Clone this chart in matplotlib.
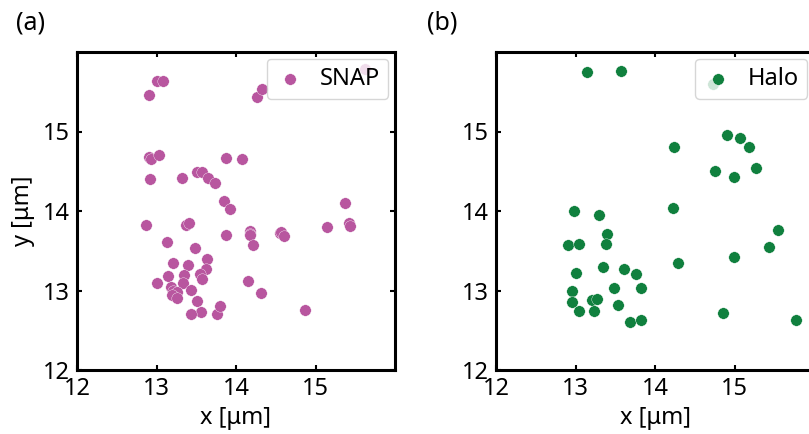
import matplotlib
matplotlib.use("Agg")
import matplotlib.pyplot as plt

plt.rcParams['font.family'] = ['Noto Sans', 'DejaVu Sans']

snap_x = [13.00, 13.08, 12.90, 14.27, 14.33, 15.62, 12.90, 12.93, 13.03, 12.92,
          13.32, 13.51, 13.57, 13.65, 13.73, 13.87, 14.08, 13.85, 13.92, 12.87,
          13.37, 13.41, 13.88, 14.17, 14.18, 14.17, 14.21, 14.55, 14.57, 14.61,
          15.15, 15.37, 15.42, 15.44, 13.13, 13.49, 13.21, 13.64, 13.39, 13.62,
          13.55, 13.57, 13.35, 13.33, 13.14, 13.01, 13.18, 13.21, 13.26, 13.19,
          13.26, 13.44, 14.15, 14.31, 13.51, 13.56, 13.43, 13.76, 13.80, 14.87]
snap_y = [15.64, 15.64, 15.46, 15.43, 15.54, 15.78, 14.68, 14.65, 14.70, 14.40,
          14.41, 14.49, 14.49, 14.42, 14.35, 14.67, 14.65, 14.13, 14.03, 13.82,
          13.83, 13.85, 13.70, 13.75, 13.71, 13.70, 13.57, 13.72, 13.74, 13.69,
          13.80, 14.10, 13.85, 13.81, 13.61, 13.54, 13.35, 13.40, 13.32, 13.27,
          13.21, 13.15, 13.20, 13.10, 13.18, 13.09, 13.05, 13.00, 12.98, 12.94,
          12.91, 13.01, 13.12, 12.97, 12.87, 12.73, 12.70, 12.71, 12.80, 12.76]

halo_x = [13.15, 13.57, 14.73, 14.24, 14.90, 15.07, 15.18, 14.75, 14.99, 15.27,
          14.23, 12.98, 13.30, 13.39, 12.90, 13.05, 13.38, 15.55, 15.44, 14.29,
          14.99, 13.01, 13.35, 13.61, 13.76, 12.95, 13.48, 13.83, 12.95, 13.21,
          13.27, 13.05, 13.23, 13.54, 13.69, 13.82, 14.86, 15.77]
halo_y = [15.75, 15.76, 15.60, 14.81, 14.96, 14.92, 14.81, 14.50, 14.43, 14.54,
          14.04, 14.00, 13.95, 13.71, 13.57, 13.58, 13.58, 13.76, 13.55, 13.35,
          13.42, 13.22, 13.29, 13.27, 13.21, 13.00, 13.03, 13.03, 12.85, 12.88,
          12.89, 12.74, 12.74, 12.82, 12.61, 12.63, 12.72, 12.63]

ticks = [12, 13, 14, 15]
labels = ["SNAP", "Halo"]
colors = ["#b8569f", "#10803e"]
panel_tags = ["(a)", "(b)"]

W, H = 809, 434
fig = plt.figure(figsize=(W / 100, H / 100), dpi=100)
ax1 = fig.add_axes([77 / W, (434 - 370) / H, 318 / W, 318 / H])
ax2 = fig.add_axes([496 / W, (434 - 370) / H, 318 / W, 318 / H])

for ax, xs, ys, lab, col in [(ax1, snap_x, snap_y, labels[0], colors[0]),
                             (ax2, halo_x, halo_y, labels[1], colors[1])]:
    ax.scatter(xs, ys, s=68, color=col, edgecolor='white', linewidth=0.25, label=lab, zorder=2)
    ax.set_xlim(12, 16)
    ax.set_ylim(12, 16)
    ax.set_xticks(ticks)
    ax.set_yticks(ticks)
    ax.tick_params(direction='in', top=True, right=True, length=3.6, width=1.5,
                   labelsize=17, pad=5)
    for sp in ax.spines.values():
        sp.set_linewidth(2.2)
    ax.set_xlabel("x [μm]", fontsize=17, labelpad=4)
    leg = ax.legend(loc='upper right', fontsize=17, handlelength=1.3, handletextpad=0.6,
                    borderpad=0.35, borderaxespad=0.28, framealpha=0.8)

ax1.set_ylabel("y [μm]", fontsize=17, labelpad=6)

fig.text(16 / W, 1 - 23 / H, panel_tags[0], fontsize=18, va='center', ha='left')
fig.text(427 / W, 1 - 23 / H, panel_tags[1], fontsize=18, va='center', ha='left')

fig.savefig("out.png", dpi=100)
